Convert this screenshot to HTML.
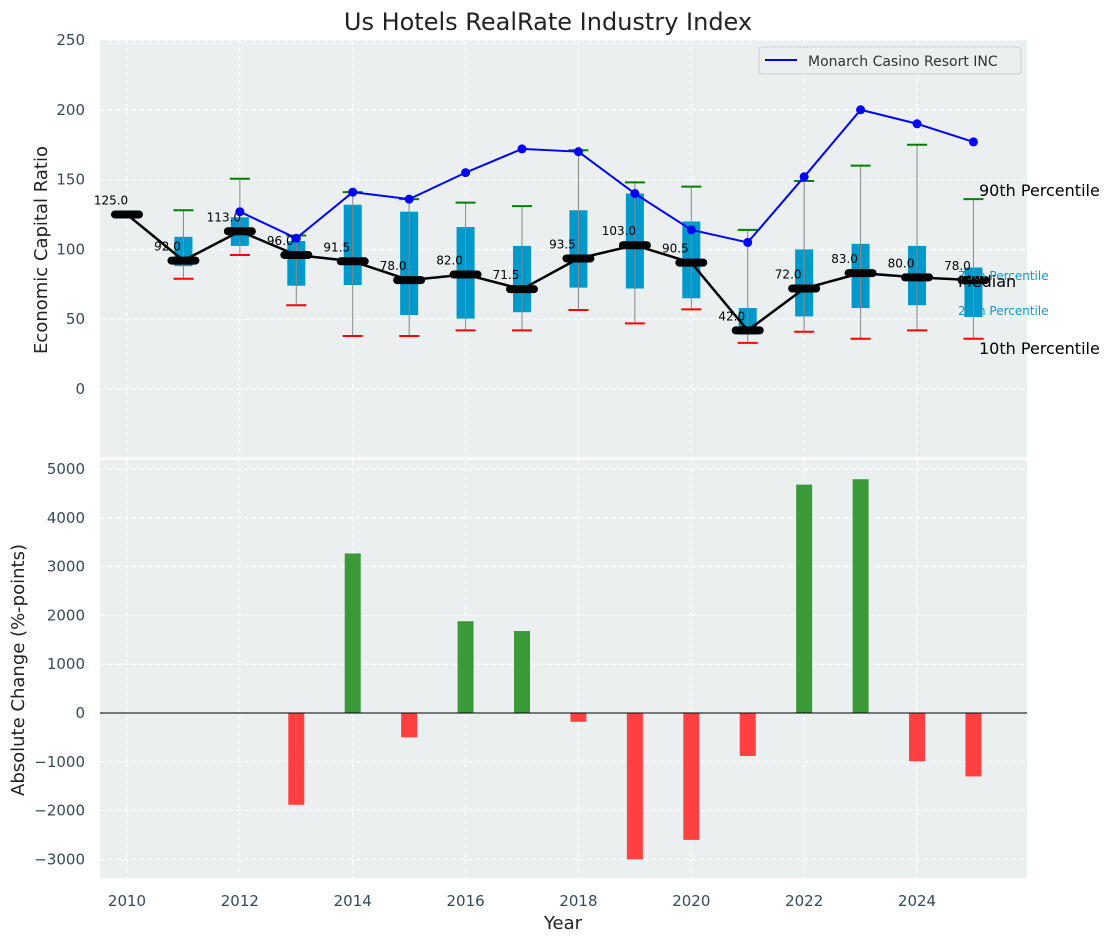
<!DOCTYPE html>
<html><head><meta charset="utf-8">
<style>
body{margin:0;background:#fff;}
svg{display:block;font-family:"DejaVu Sans","Liberation Sans",sans-serif;}
.tick{font-size:15px;fill:#34495e;}
</style></head>
<body>
<svg id="chart" width="1114" height="942" xmlns="http://www.w3.org/2000/svg">
<text x="548" y="30" text-anchor="middle" style="font-size:24px" fill="#222">Us Hotels RealRate Industry Index</text>
<rect x="100" y="40" width="927" height="417.5" fill="#ebeff0"/>
<rect x="100" y="460" width="927" height="418" fill="#ebeff0"/>
<g id="grid"></g>
<g id="top"></g>
<g id="bottom"></g>
<g id="axes"></g>
<text x="47" y="250" transform="rotate(-90 47 250)" text-anchor="middle" style="font-size:18px" fill="#222">Economic Capital Ratio</text>
<text x="24" y="670" transform="rotate(-90 24 670)" text-anchor="middle" style="font-size:18px" fill="#222">Absolute Change (%-points)</text>
<text x="563" y="929" text-anchor="middle" style="font-size:18px" fill="#222">Year</text>
<g>
<rect x="759" y="47" width="262" height="27" rx="3" fill="#ebeff0" stroke="#ccc"/>
<line x1="765" y1="60" x2="797" y2="60" stroke="#0000ff" stroke-width="2"/>
<text x="808" y="66" style="font-size:14px" fill="#333">Monarch Casino Resort INC</text>
</g>
<text x="979" y="196" style="font-size:16px" fill="#000">90th Percentile</text>
<text x="979" y="354" style="font-size:16px" fill="#000">10th Percentile</text>
<text x="958" y="280" style="font-size:12px" fill="#1199cc">75th Percentile</text>
<text x="958" y="315" style="font-size:12px" fill="#1199cc">25th Percentile</text>
<text x="958" y="287" style="font-size:16px" fill="#000">Median</text>
</svg>
<script>
const years=[2010,2011,2012,2013,2014,2015,2016,2017,2018,2019,2020,2021,2022,2023,2024,2025];
const medians=[125,92,113,96,91.5,78,82,71.5,93.5,103,90.5,42,72,83,80,78];
const q3=[null,109,123,106,132,127,116,102.5,128,140,120,58,100,104,102.5,87];
const q1=[null,88,102.5,74,74.5,53,50.4,55,72.6,72,65,39,52,58,60,51.6];
const p90=[null,128,150.6,110,141,136,133.5,131,171,148,145,114,149,160,175,136];
const p10=[null,79,96,60,38,38,42,42,56.6,47,57,33,41,36,42,36];
const companyYears=[2012,2013,2014,2015,2016,2017,2018,2019,2020,2021,2022,2023,2024,2025];
const companyVals=[127,108,141,136,155,172,170,140,114,105,152,200,190,177];
const changeYears=[2013,2014,2015,2016,2017,2018,2019,2020,2021,2022,2023,2024,2025];
const changeVals=[-1880,3270,-500,1880,1680,-180,-3000,-2600,-880,4680,4790,-990,-1300];
const topTicks=[0,50,100,150,200,250];
const botTicks=[-3000,-2000,-1000,0,1000,2000,3000,4000,5000];
const xTicks=[2010,2012,2014,2016,2018,2020,2022,2024];

const NS="http://www.w3.org/2000/svg";
const X=v=>127+(v-2010)*56.43;
const YT=v=>389-v*1.396;
const YB=v=>713-v*0.0488;
function mk(parent,tag,attrs){const e=document.createElementNS(NS,tag);for(const k in attrs)e.setAttribute(k,attrs[k]);document.getElementById(parent).appendChild(e);return e;}

xTicks.forEach(t=>{
 let g=mk('grid','line',{x1:X(t),x2:X(t),y1:40,y2:457,stroke:'#fff','stroke-dasharray':'5,3'});
 
 
 g=mk('grid','line',{x1:X(t),x2:X(t),y1:460,y2:878,stroke:'#fff','stroke-dasharray':'5,3'});
 
 
 const l=mk('axes','text',{x:X(t),y:906,'text-anchor':'middle','class':'tick'});l.textContent=t;
 
 
});
topTicks.forEach(t=>{
 const g=mk('grid','line',{x1:100,x2:1027,y1:YT(t),y2:YT(t),stroke:'#fff','stroke-dasharray':'5,3'});
 
 
 const l=mk('axes','text',{x:85,y:YT(t)+5,'text-anchor':'end','class':'tick'});l.textContent=t;
 
 
});
botTicks.forEach(t=>{
 const g=mk('grid','line',{x1:100,x2:1027,y1:YB(t),y2:YB(t),stroke:'#fff','stroke-dasharray':'5,3'});
 
 
 const l=mk('axes','text',{x:85,y:YB(t)+5,'text-anchor':'end','class':'tick'});l.textContent=t<0?'\u2212'+(-t):t;
 
 
});

years.forEach((y,i)=>{
 if(q1[i]==null)return;
 const x=X(y);
 let e=mk('top','rect',{x:x-9,y:YT(q3[i]),width:18,height:YT(q1[i])-YT(q3[i]),fill:'#0099cc'});
 
 
 e=mk('top','line',{x1:x,x2:x,y1:YT(p90[i]),y2:YT(p10[i]),stroke:'#888','stroke-width':1});
 
 
 e=mk('top','line',{x1:x-10,x2:x+10,y1:YT(p90[i]),y2:YT(p90[i]),stroke:'#008000','stroke-width':2});
 
 
 e=mk('top','line',{x1:x-10,x2:x+10,y1:YT(p10[i]),y2:YT(p10[i]),stroke:'#ff0000','stroke-width':2});
 
 
});
let pts=years.map((y,i)=>X(y)+','+YT(medians[i])).join(' ');
let ml=mk('top','polyline',{points:pts,fill:'none',stroke:'#000','stroke-width':2.5});


years.forEach((y,i)=>{
 const x=X(y);
 let e=mk('top','line',{x1:x-12,x2:x+12,y1:YT(medians[i]),y2:YT(medians[i]),stroke:'#000','stroke-width':8,'stroke-linecap':'round'});
 
 
 const t=mk('top','text',{x:x-16,y:YT(medians[i])-10,'text-anchor':'middle',style:'font-size:12px',fill:'#000'});t.textContent=medians[i].toFixed(1);
 
 
});
pts=companyYears.map((y,i)=>X(y)+','+YT(companyVals[i])).join(' ');
let cl=mk('top','polyline',{points:pts,fill:'none',stroke:'#0000ff','stroke-width':2});


companyYears.forEach((y,i)=>{
 const c=mk('top','circle',{cx:X(y),cy:YT(companyVals[i]),r:4.5,fill:'#0000ff'});
 
 
});
changeYears.forEach((y,i)=>{
 const v=changeVals[i];
 const b=mk('bottom','rect',{x:X(y)-8,y:Math.min(YB(v),YB(0)),width:16,height:Math.abs(YB(v)-YB(0)),fill:v>=0?'#3a9a3a':'#ff4040'});
 
 
});
let z=mk('bottom','line',{x1:100,x2:1027,y1:YB(0),y2:YB(0),stroke:'#000','stroke-width':1});


</script>
</body></html>
